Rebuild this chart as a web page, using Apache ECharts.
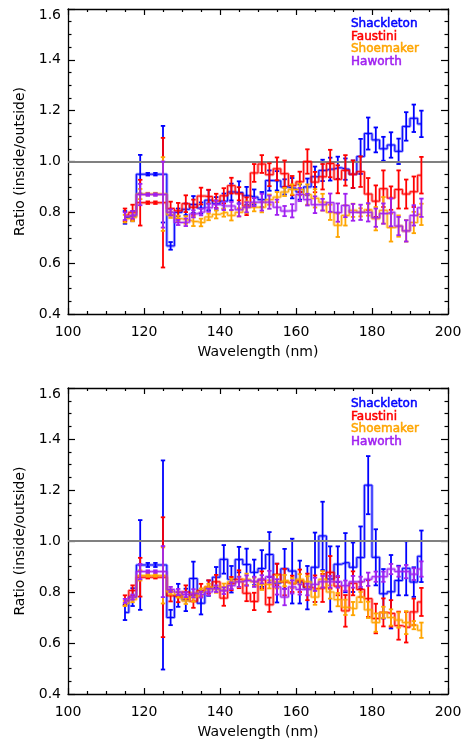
<!DOCTYPE html>
<html>
<head>
<meta charset="utf-8">
<script src="https://cdn.jsdelivr.net/npm/echarts@6/dist/echarts.min.js"></script>
<style>
    html, body {margin: 0; padding: 0; background: #fff;}
    #chart {width: 466px; height: 740px;}
</style>
</head>
<body>
<div id="chart"></div>
<script>
// wavelength bin centres (nm)
var wavelength = [115,117,119,121,123,125,127,129,131,133,135,137,139,141,143,145,147,149,151,153,
    155,157,159,161,163,165,167,169,171,173,175,177,179,181,183,185,187,189,191,193];

var craterNames = ['Shackleton', 'Faustini', 'Shoemaker', 'Haworth'];
var craterColors = ['#0000ff', '#ff0000', '#ffa500', '#a020f0'];

// upper panel
var topShackleton = [0.78,0.785,0.95,0.95,0.95,0.95,0.668,0.80,0.812,0.831,0.817,0.848,0.834,0.844,0.88,0.878,0.865,0.86,0.85,0.925,
    0.924,0.90,0.895,0.88,0.90,0.94,0.965,0.97,0.975,0.97,0.95,1.02,1.11,1.085,1.05,1.065,1.04,1.138,1.17,1.148];
var topShackletonErr = [0.025,0.02,0.076,0.005,0.005,0.19,0.015,0.015,0.023,0.033,0.022,0.04,0.026,0.03,0.033,0.044,0.035,0.03,0.03,0.04,
    0.038,0.03,0.04,0.03,0.033,0.04,0.042,0.045,0.044,0.042,0.054,0.069,0.063,0.049,0.047,0.05,0.05,0.056,0.054,0.052];
var topFaustini = [0.79,0.80,0.838,0.838,0.838,0.838,0.815,0.806,0.834,0.82,0.864,0.862,0.845,0.865,0.905,0.873,0.824,0.955,0.99,0.948,
    0.971,0.952,0.905,0.92,1.0,0.919,0.94,0.992,0.93,0.965,0.95,0.96,0.872,0.844,0.893,0.856,0.89,0.872,0.881,0.946];
var topFaustiniErr = [0.025,0.03,0.09,0.005,0.005,0.255,0.027,0.031,0.033,0.03,0.033,0.027,0.028,0.03,0.031,0.026,0.035,0.035,0.035,0.045,
    0.045,0.052,0.038,0.04,0.048,0.04,0.05,0.054,0.055,0.06,0.054,0.06,0.063,0.062,0.072,0.046,0.075,0.057,0.06,0.072];
var topShoemaker = [0.775,0.78,0.872,0.872,0.872,0.872,0.79,0.775,0.77,0.764,0.76,0.782,0.792,0.799,0.788,0.80,0.82,0.82,0.82,0.85,
    0.86,0.88,0.89,0.89,0.87,0.855,0.84,0.80,0.749,0.788,0.808,0.80,0.81,0.775,0.808,0.74,0.746,0.727,0.76,0.792];
var topShoemakerErr = [0.015,0.015,0.02,0.005,0.005,0.145,0.012,0.012,0.015,0.018,0.015,0.013,0.016,0.016,0.02,0.016,0.023,0.016,0.02,0.02,
    0.02,0.016,0.02,0.023,0.04,0.036,0.033,0.03,0.046,0.04,0.026,0.016,0.023,0.046,0.052,0.055,0.042,0.042,0.042,0.042];
var topHaworth = [0.785,0.79,0.87,0.87,0.87,0.87,0.80,0.76,0.761,0.794,0.801,0.818,0.831,0.825,0.825,0.81,0.82,0.84,0.84,0.84,
    0.82,0.805,0.806,0.87,0.85,0.83,0.83,0.838,0.799,0.827,0.80,0.80,0.80,0.779,0.795,0.80,0.746,0.727,0.788,0.818];
var topHaworthErr = [0.015,0.015,0.042,0.005,0.005,0.13,0.012,0.01,0.015,0.014,0.013,0.016,0.016,0.016,0.016,0.026,0.02,0.016,0.033,0.026,
    0.03,0.02,0.026,0.026,0.023,0.033,0.023,0.036,0.036,0.046,0.033,0.03,0.036,0.036,0.04,0.055,0.036,0.042,0.04,0.036];

// lower panel
var botShackleton = [0.72,0.78,0.906,0.906,0.906,0.906,0.70,0.787,0.769,0.853,0.756,0.815,0.858,0.928,0.85,0.927,0.908,0.877,0.892,0.947,
    0.835,0.891,0.882,0.839,0.817,0.897,1.02,0.851,0.909,0.915,0.897,0.935,1.219,0.936,0.793,0.801,0.845,0.893,0.839,0.94];
var botShackletonErr = [0.03,0.035,0.176,0.008,0.008,0.41,0.03,0.045,0.044,0.066,0.044,0.03,0.04,0.056,0.052,0.05,0.062,0.05,0.072,0.088,
    0.076,0.078,0.127,0.084,0.085,0.136,0.134,0.128,0.07,0.116,0.097,0.122,0.114,0.11,0.097,0.144,0.058,0.106,0.058,0.101];
var botFaustini = [0.767,0.806,0.858,0.858,0.858,0.858,0.785,0.78,0.80,0.764,0.806,0.82,0.84,0.776,0.833,0.85,0.795,0.763,0.847,0.75,
    0.869,0.839,0.832,0.844,0.82,0.813,0.816,0.877,0.823,0.726,0.834,0.81,0.774,0.696,0.72,0.716,0.668,0.662,0.722,0.761];
var botFaustiniErr = [0.02,0.02,0.076,0.005,0.005,0.235,0.022,0.02,0.026,0.026,0.026,0.026,0.027,0.03,0.026,0.035,0.031,0.034,0.034,0.028,
    0.042,0.052,0.032,0.044,0.052,0.052,0.055,0.064,0.036,0.062,0.047,0.03,0.072,0.058,0.055,0.052,0.055,0.06,0.052,0.055];
var botShoemaker = [0.755,0.77,0.865,0.865,0.865,0.865,0.80,0.79,0.765,0.78,0.80,0.82,0.81,0.82,0.84,0.84,0.85,0.84,0.83,0.83,
    0.84,0.845,0.835,0.85,0.84,0.78,0.85,0.80,0.77,0.74,0.735,0.78,0.73,0.68,0.72,0.70,0.69,0.68,0.67,0.65];
var botShoemakerErr = [0.01,0.01,0.02,0.005,0.005,0.11,0.01,0.012,0.012,0.018,0.014,0.012,0.013,0.013,0.012,0.02,0.022,0.016,0.022,0.016,
    0.026,0.022,0.02,0.02,0.022,0.03,0.032,0.026,0.026,0.03,0.026,0.02,0.032,0.036,0.022,0.032,0.03,0.045,0.016,0.03];
var botHaworth = [0.765,0.78,0.88,0.88,0.88,0.88,0.81,0.80,0.79,0.795,0.79,0.80,0.813,0.805,0.825,0.84,0.845,0.84,0.85,0.86,
    0.82,0.78,0.82,0.81,0.81,0.83,0.84,0.84,0.84,0.825,0.84,0.84,0.85,0.86,0.86,0.89,0.88,0.88,0.87,0.89];
var botHaworthErr = [0.008,0.01,0.03,0.005,0.005,0.10,0.01,0.012,0.01,0.016,0.012,0.013,0.013,0.013,0.013,0.02,0.02,0.02,0.016,0.023,
    0.03,0.032,0.026,0.02,0.023,0.026,0.023,0.023,0.023,0.02,0.023,0.02,0.026,0.02,0.02,0.02,0.02,0.026,0.023,0.03];

var xTicks = {min: 100, max: 200, interval: 20};
var yTicks = {min: 0.4, max: 1.6, interval: 0.2};

var panels = [
    {values: [topShackleton, topFaustini, topShoemaker, topHaworth],
     errors: [topShackletonErr, topFaustiniErr, topShoemakerErr, topHaworthErr]},
    {values: [botShackleton, botFaustini, botShoemaker, botHaworth],
     errors: [botShackletonErr, botFaustiniErr, botShoemakerErr, botHaworthErr]}
];

var FONT = 'DejaVu Sans';
var axisLine = {show: true, lineStyle: {color: '#000', width: 1.3}};

//x轴: 下方带标签, 上方只有刻度
function makeXAxes(g) {
    var base = {
        type: 'value', gridIndex: g, min: xTicks.min, max: xTicks.max, interval: xTicks.interval,
        axisLine: axisLine,
        axisTick: {inside: true, length: 6, lineStyle: {color: '#000', width: 1.2}},
        minorTick: {show: true, splitNumber: 4, length: 3, lineStyle: {color: '#000', width: 1.2}},
        splitLine: {show: false}
    };
    var bottom = Object.assign({}, base, {
        position: 'bottom',
        name: 'Wavelength (nm)', nameLocation: 'middle', nameGap: 31,
        nameTextStyle: {fontFamily: FONT, fontSize: 14, color: '#000'},
        axisLabel: {fontFamily: FONT, fontSize: 14, color: '#000', margin: 11}
    });
    var top = Object.assign({}, base, {position: 'top', axisLabel: {show: false}});
    return [bottom, top];
}

//y轴: 左侧带标签, 右侧只有刻度
function makeYAxes(g) {
    var base = {
        type: 'value', gridIndex: g, min: yTicks.min, max: yTicks.max, interval: yTicks.interval,
        axisLine: axisLine,
        axisTick: {inside: true, length: 7, lineStyle: {color: '#000', width: 1.2}},
        minorTick: {show: true, splitNumber: 4, length: 3.5, lineStyle: {color: '#000', width: 1.2}},
        splitLine: {show: false}
    };
    var left = Object.assign({}, base, {
        position: 'left',
        name: 'Ratio (inside/outside)', nameLocation: 'middle', nameGap: 37,
        nameTextStyle: {fontFamily: FONT, fontSize: 14, color: '#000'},
        axisLabel: {fontFamily: FONT, fontSize: 14, color: '#000', margin: 7,
            formatter: function (v) {
                // 顶端标签略微下移
                return v >= yTicks.max - 1e-9 ? '{lo|' + v.toFixed(1) + '}' : v.toFixed(1);
            },
            rich: {lo: {fontFamily: FONT, fontSize: 14, color: '#000', padding: [12, 0, 0, 0]}}
        }
    });
    var right = Object.assign({}, base, {position: 'right', axisLabel: {show: false}});
    return [left, right];
}

//误差棒
function renderErrorBar(params, api) {
    var x = api.value(0);
    var lo = api.coord([x, api.value(1)]);
    var hi = api.coord([x, api.value(2)]);
    var color = api.visual('color');
    var cap = 2.2;
    var style = {stroke: color, lineWidth: 1.8};
    return {
        type: 'group',
        children: [
            {type: 'line', shape: {x1: lo[0], y1: lo[1], x2: hi[0], y2: hi[1]}, style: style},
            {type: 'line', shape: {x1: lo[0] - cap, y1: lo[1], x2: lo[0] + cap, y2: lo[1]}, style: style},
            {type: 'line', shape: {x1: hi[0] - cap, y1: hi[1], x2: hi[0] + cap, y2: hi[1]}, style: style}
        ]
    };
}

var xAxes = [], yAxes = [], series = [];
panels.forEach(function (panel, g) {
    xAxes = xAxes.concat(makeXAxes(g));
    yAxes = yAxes.concat(makeYAxes(g));
    panel.values.forEach(function (vals, k) {
        var color = craterColors[k];
        var pts = [], bars = [];
        for (var i = 0; i < wavelength.length; i++) {
            pts.push([wavelength[i], vals[i]]);
            bars.push([wavelength[i], vals[i] - panel.errors[k][i], vals[i] + panel.errors[k][i]]);
        }
        var halo = {
            name: craterNames[k], type: 'line', step: 'middle',
            xAxisIndex: 2 * g, yAxisIndex: 2 * g,
            symbol: 'none', silent: true, z: 2 + k * 3,
            lineStyle: {color: color, width: 3, opacity: 0.4},
            itemStyle: {color: color},
            data: pts
        };
        if (k === 0) {
            halo.markLine = { //1.0 参考线
                silent: true, symbol: 'none', label: {show: false},
                lineStyle: {color: '#808080', width: 2, type: 'solid'},
                data: [{yAxis: 1}]
            };
        }
        series.push(halo);
        series.push({
            name: craterNames[k], type: 'line', step: 'middle',
            xAxisIndex: 2 * g, yAxisIndex: 2 * g,
            symbol: 'none', silent: true, z: 3 + k * 3,
            lineStyle: {color: color, width: 1},
            itemStyle: {color: color},
            data: pts
        });
        series.push({
            name: craterNames[k], type: 'custom',
            xAxisIndex: 2 * g, yAxisIndex: 2 * g,
            silent: true, z: 4 + k * 3,
            itemStyle: {color: color},
            encode: {x: 0, y: [1, 2]},
            renderItem: renderErrorBar,
            data: bars
        });
    });
});

function makeLegend(top) {
    return {
        top: top, left: 346, orient: 'vertical', padding: 0, itemGap: 0,
        itemWidth: 0, itemHeight: 12, icon: 'none', selectedMode: false,
        textStyle: {fontFamily: FONT, fontSize: 12, lineHeight: 12},
        data: craterNames.map(function (n, k) {
            return {name: n, textStyle: {color: craterColors[k], textBorderColor: craterColors[k], textBorderWidth: 0.5}};
        })
    };
}

var myChart = echarts.init(document.getElementById('chart'));
myChart.setOption({
    animation: false,
    backgroundColor: '#fff',
    grid: [
        {left: 68, top: 9, width: 380, height: 305},
        {left: 68, top: 388, width: 380, height: 308}
    ],
    legend: [makeLegend(18), makeLegend(398)],
    xAxis: xAxes,
    yAxis: yAxes,
    series: series
});
</script>
</body>
</html>
